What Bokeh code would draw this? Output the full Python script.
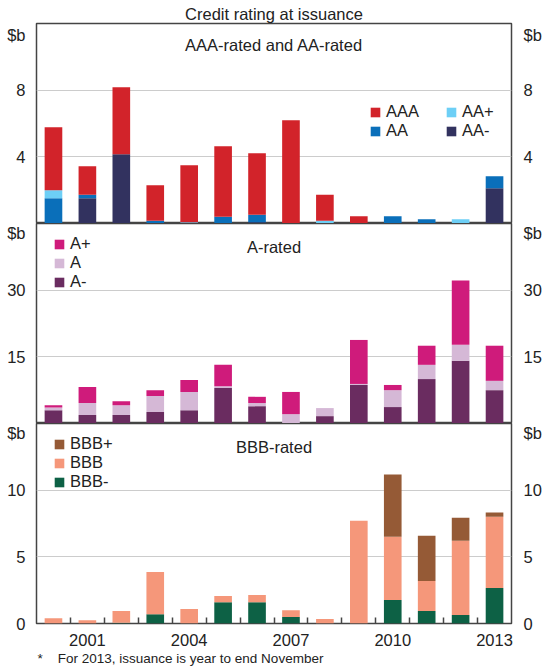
from bokeh.plotting import figure
from bokeh.layouts import column
from bokeh.models import (Range1d, FixedTicker, LinearAxis, Legend, LegendItem,
                          Label, Title, ColumnDataSource, CustomJSTickFormatter)
from bokeh.embed import file_html
from bokeh.resources import INLINE

# ---------------- data ----------------
years = list(range(2000, 2014))
tick_years = [2001, 2004, 2007, 2010, 2013]

# AAA-rated and AA-rated ($b), stacked bottom -> top: AA-, AA, AA+, AAA
aa_minus = [0.00, 1.52, 4.16, 0.00, 0.00, 0.00, 0.08, 0.00, 0.00, 0.00, 0.00, 0.00, 0.00, 2.12]
aa       = [1.52, 0.20, 0.00, 0.16, 0.00, 0.40, 0.44, 0.00, 0.00, 0.00, 0.44, 0.26, 0.00, 0.72]
aa_plus  = [0.48, 0.00, 0.00, 0.00, 0.08, 0.00, 0.00, 0.00, 0.16, 0.00, 0.00, 0.00, 0.26, 0.00]
aaa      = [3.78, 1.72, 4.02, 2.14, 3.42, 4.24, 3.70, 6.20, 1.56, 0.44, 0.00, 0.00, 0.00, 0.00]

# A-rated ($b), bottom -> top: A-, A, A+
a_minus = [3.0, 1.9, 1.9, 2.6, 3.0, 8.0, 3.9, 0.0, 1.66, 8.67, 3.7, 10.0, 14.1, 7.5]
a_mid   = [0.6, 2.7, 2.2, 3.6, 4.1, 0.4, 0.7, 2.1, 1.81, 0.23, 3.8, 3.2, 3.6, 2.1]
a_plus  = [0.5, 3.6, 0.9, 1.3, 2.7, 4.8, 1.4, 5.0, 0.0, 9.9, 1.17, 4.3, 14.5, 7.9]

# BBB-rated ($b), bottom -> top: BBB-, BBB, BBB+
bbb_minus = [0.00, 0.00, 0.05, 0.70, 0.00, 1.60, 1.60, 0.48, 0.00, 0.00, 1.76, 0.93, 0.63, 2.66]
bbb_mid   = [0.40, 0.25, 0.88, 3.17, 1.08, 0.46, 0.54, 0.52, 0.33, 7.71, 4.74, 2.26, 5.57, 5.34]
bbb_plus  = [0.00, 0.00, 0.00, 0.00, 0.00, 0.00, 0.00, 0.00, 0.00, 0.00, 4.68, 3.39, 1.74, 0.32]

# ---------------- style ----------------
FONT = "Liberation Sans"
TXT = "#222222"
FS = "16.5px"
FRAME_LINE = "#444444"
GRID = "#cccccc"


def make_panel(ymax, grid_ticks, dollar_at, show_zero, min_top, min_bottom, with_xaxis):
    p = figure(frame_width=475, frame_height=200,
               x_range=Range1d(1999.5, 2013.5), y_range=Range1d(0, ymax),
               x_axis_location="below" if with_xaxis else None,
               y_axis_location="left",
               toolbar_location=None, output_backend="svg",
               min_border_left=36, min_border_right=36,
               min_border_top=min_top, min_border_bottom=min_bottom,
               background_fill_color="white", border_fill_color="white")
    p.outline_line_color = FRAME_LINE
    p.outline_line_width = 1.5
    p.xgrid.visible = False
    p.ygrid.ticker = FixedTicker(ticks=grid_ticks)
    p.ygrid.grid_line_color = GRID
    p.ygrid.grid_line_width = 1

    ticks = ([0] if show_zero else []) + grid_ticks + [dollar_at]
    fmt = CustomJSTickFormatter(args=dict(top=dollar_at),
                                code="return Math.abs(tick - top) < 1e-6 ? '$b' : tick.toFixed(0);")
    right = LinearAxis()
    p.add_layout(right, "right")
    for ax, standoff in ((p.yaxis[0], 5), (right, 6)):
        ax.ticker = FixedTicker(ticks=ticks)
        ax.formatter = fmt
        ax.axis_line_color = None
        ax.major_tick_line_color = None
        ax.minor_tick_line_color = None
        ax.major_label_standoff = standoff
        ax.major_label_text_font = FONT
        ax.major_label_text_font_size = FS
        ax.major_label_text_color = TXT

    if with_xaxis:
        xa = p.xaxis[0]
        xa.ticker = FixedTicker(ticks=tick_years, minor_ticks=[y + 0.5 for y in years[:-1]])
        xa.formatter = CustomJSTickFormatter(code="return tick.toFixed(0);")
        xa.axis_line_color = None
        xa.major_tick_in = 0
        xa.major_tick_out = 0
        xa.minor_tick_in = 6
        xa.minor_tick_out = 0
        xa.minor_tick_line_color = FRAME_LINE
        xa.minor_tick_line_width = 1.5
        xa.major_label_standoff = 10
        xa.major_label_text_font = FONT
        xa.major_label_text_font_size = FS
        xa.major_label_text_color = TXT
    return p


def add_stack(p, data, names, colors):
    src = dict(x=years)
    src.update(data)
    rs = p.vbar_stack(names, x="x", width=0.52, color=colors, line_color=None,
                      source=ColumnDataSource(src))
    return dict(zip(names, rs))


def add_legend(p, entries, x, y):
    leg = Legend(items=[LegendItem(label=lab, renderers=[r]) for lab, r in entries],
                 location=(x, y), orientation="vertical",
                 border_line_color=None, background_fill_alpha=0,
                 padding=0, margin=0, spacing=0,
                 glyph_width=12, glyph_height=12, label_standoff=5,
                 label_height=10, label_text_font=FONT, label_text_font_size=FS,
                 label_text_color=TXT, label_text_baseline="middle")
    p.add_layout(leg)


def add_text(p, x, y, text, size=FS, align="center"):
    p.add_layout(Label(x=x, y=y, text=text, text_font=FONT, text_font_size=size,
                       text_color=TXT, text_align=align, text_baseline="alphabetic"))


# ---------------- panel 1 ----------------
p1 = make_panel(12, [4, 8], 11.3, False, 23, 0, False)
p1.title = Title(text="Credit rating at issuance", align="center",
                 text_font=FONT, text_font_size=FS, text_font_style="normal",
                 text_color=TXT, standoff=1)
r1 = add_stack(p1, dict(aa_minus=aa_minus, aa=aa, aa_plus=aa_plus, aaa=aaa),
               ["aa_minus", "aa", "aa_plus", "aaa"],
               ["#32325f", "#0a6fba", "#6dcff6", "#d2232a"])
add_legend(p1, [("AAA", r1["aaa"]), ("AA", r1["aa"])], 333, 83)
add_legend(p1, [("AA+", r1["aa_plus"]), ("AA-", r1["aa_minus"])], 409, 83)
add_text(p1, 2006.5, 10.69, "AAA-rated and AA-rated")

# ---------------- panel 2 ----------------
p2 = make_panel(45, [15, 30], 43.8, False, 0, 0, False)
r2 = add_stack(p2, dict(a_minus=a_minus, a_mid=a_mid, a_plus=a_plus),
               ["a_minus", "a_mid", "a_plus"],
               ["#6a2c60", "#d5b8d6", "#cf1b7b"])
add_legend(p2, [("A+", r2["a_plus"]), ("A", r2["a_mid"]), ("A-", r2["a_minus"])], 17, 132)
add_text(p2, 2006.5, 39.67, "A-rated")

# ---------------- panel 3 ----------------
p3 = make_panel(15, [5, 10], 14.6, True, 0, 44, True)
r3 = add_stack(p3, dict(bbb_minus=bbb_minus, bbb_mid=bbb_mid, bbb_plus=bbb_plus),
               ["bbb_minus", "bbb_mid", "bbb_plus"],
               ["#0d6145", "#f5977a", "#955a36"])
add_legend(p3, [("BBB+", r3["bbb_plus"]), ("BBB", r3["bbb_mid"]), ("BBB-", r3["bbb_minus"])], 17, 132)
add_text(p3, 2006.5, 13.22, "BBB-rated")
p3.add_layout(Title(text="*\u00a0\u00a0\u00a0\u00a0For 2013, issuance is year to end November",
                    align="left", offset=1, standoff=1, text_font=FONT,
                    text_font_size="13.5px", text_font_style="normal", text_color=TXT),
              "below")

layout = column(p1, p2, p3, spacing=0)
open("out.html", "w").write(file_html(layout, INLINE))
